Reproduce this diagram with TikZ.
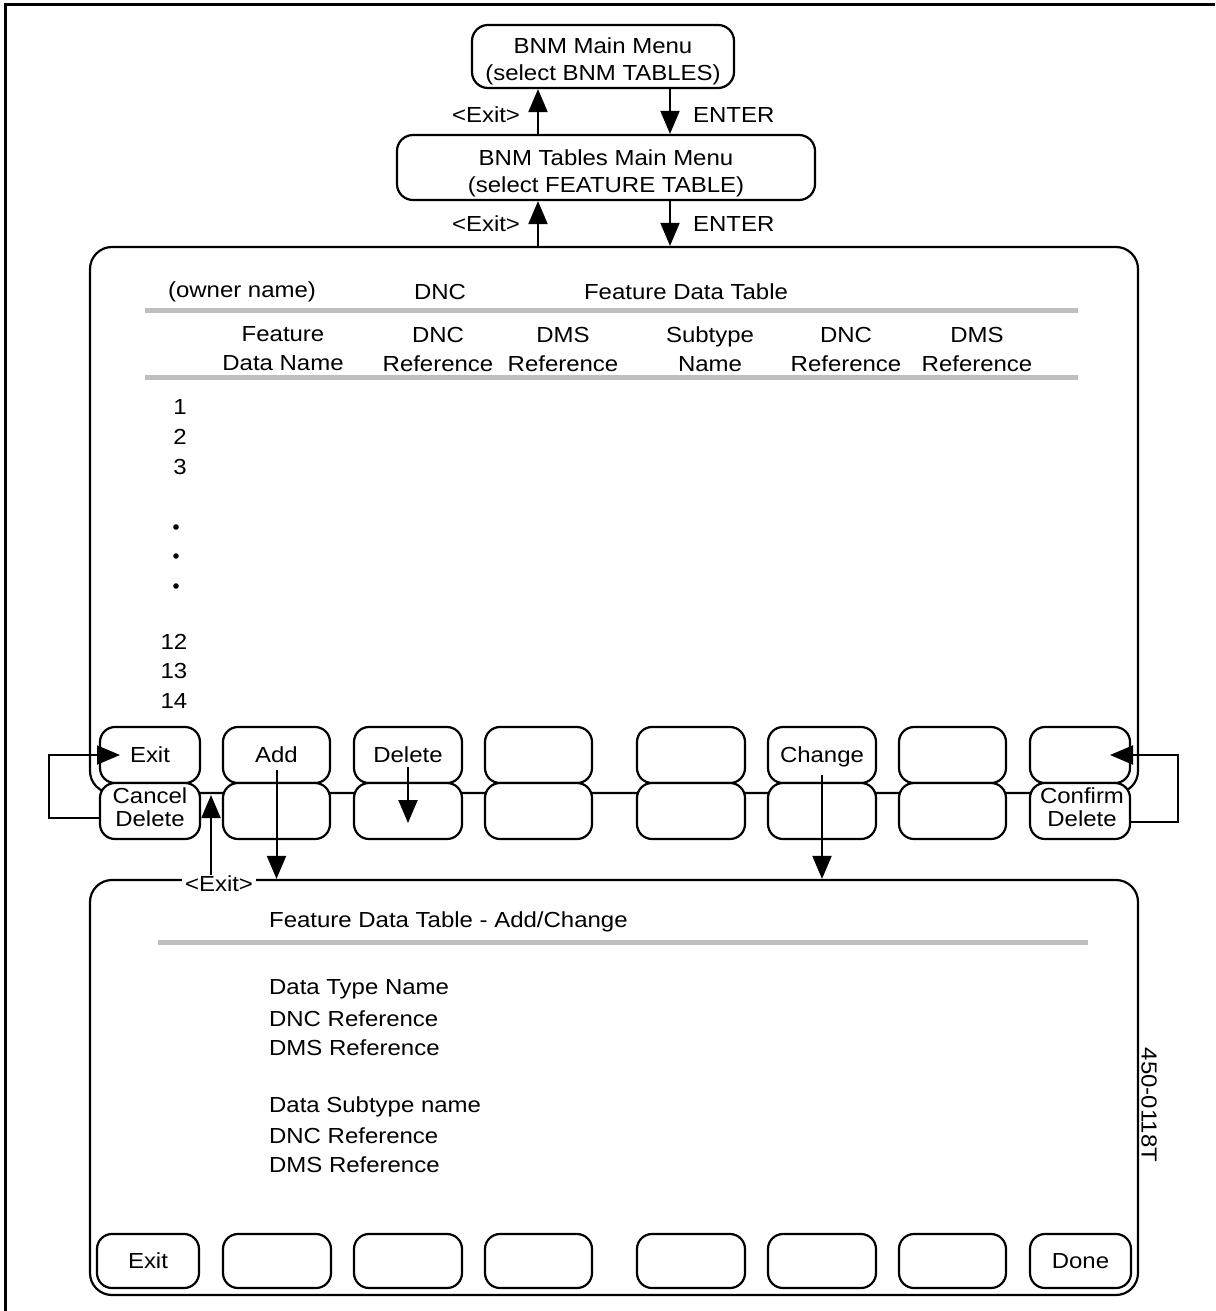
\documentclass[tikz,border=0pt]{standalone}
\usepackage{fontspec}
\setmainfont[FakeStretch=1.1]{Liberation Sans}
\usetikzlibrary{arrows.meta}
\newcommand{\tf}{\fontsize{21.8}{26}\selectfont}
\newcommand{\tfh}{\fontsize{21.8}{29}\selectfont}
\newcommand{\tfm}{\fontsize{21.8}{27}\selectfont}
\newcommand{\tfs}{\fontsize{21.8}{23}\selectfont}
\begin{document}
\begin{tikzpicture}[x=1pt,y=-1pt,line width=2.2pt,
  btn/.style={draw,fill=white,rounded corners=15pt,minimum height=56pt,minimum width=#1,inner sep=0pt,font=\tfs,align=center},
  bbtn/.style={draw,fill=white,rounded corners=15pt,minimum height=54pt,minimum width=#1,inner sep=0pt,font=\tf,align=center},
  panel/.style={draw,rounded corners=22pt,inner sep=0pt},
  menu/.style={draw,fill=white,rounded corners=16pt,inner sep=0pt},
  txt/.style={inner sep=0pt,font=\tf,align=center},
  mtxt/.style={inner sep=0pt,font=\tfm,align=center},
  htxt/.style={inner sep=0pt,font=\tfh,align=center},
  stxt/.style={inner sep=0pt,font=\tfs,align=center},
  ltxt/.style={inner sep=0pt,font=\tf,anchor=west},
  gline/.style={line width=5pt,draw=black!25},
  arr/.style={line width=2pt,-{Triangle[length=23pt,width=19pt]}}]
\useasboundingbox (0,0) rectangle (1215,1311);
% outer frame (left and top only)
\draw[line width=3pt] (5,1311) -- (5,5) -- (1215,5);

% menus
\node[menu,minimum width=262pt,minimum height=63pt] (m1) at (603,56.5) {};
\node[mtxt] (m1t) at (603,61) {BNM Main Menu\\(select BNM TABLES)};
\node[menu,minimum width=418pt,minimum height=65pt] (m2) at (606,167.5) {};
\node[mtxt] (m2t) at (606,173) {BNM Tables Main Menu\\(select FEATURE TABLE)};

% panels
\node[panel,minimum width=1048pt,minimum height=546pt] (p1) at (614,520) {};
\node[panel,minimum width=1048pt,minimum height=415pt] (p2) at (614,1087.5) {};

\coordinate (cxa) at (538,0);
\coordinate (cxb) at (670,0);

% menu arrows
\draw[arr] (m2.north -| cxa) -- (m1.south -| cxa);
\draw[arr] (m1.south -| cxb) -- (m2.north -| cxb);
\draw[arr] (p1.north -| cxa) -- (m2.south -| cxa);
\draw[arr] (m2.south -| cxb) -- (p1.north -| cxb);
\node[txt] (ex1) at (486,115) {<Exit>};
\node[ltxt] (en1) at (692,115) {ENTER};
\node[txt] (ex2) at (486,224) {<Exit>};
\node[ltxt] (en2) at (692,224) {ENTER};

% top panel content
\node[txt] (own) at (242,292) {(owner name)};
\node[txt] (dnc) at (440,292) {DNC};
\node[txt] (fdt) at (686,292) {Feature Data Table};
\draw[gline] (145,310) -- (1078,310);
\node[htxt] (h1) at (283,349) {Feature\\Data Name};
\node[htxt] (h2) at (438,349) {DNC\\Reference};
\node[htxt] (h3) at (563,349) {DMS\\Reference};
\node[htxt] (h4) at (710,349) {Subtype\\Name};
\node[htxt] (h5) at (846,349) {DNC\\Reference};
\node[htxt] (h6) at (977,349) {DMS\\Reference};
\draw[gline] (145,377) -- (1078,377);
\node[txt] (r1) at (180,407) {1};
\node[txt] (r2) at (180,437) {2};
\node[txt] (r3) at (180,467) {3};
\fill (176,527) circle (2.8pt);
\fill (176,556) circle (2.8pt);
\fill (176,586) circle (2.8pt);
\node[txt] (r12) at (174,642) {12};
\node[txt] (r13) at (174,671) {13};
\node[txt] (r14) at (174,701) {14};

% upper button row
\node[btn=100pt] (u1) at (150,755) {Exit};
\node[btn=107pt] (u2) at (276.5,755) {Add};
\node[btn=108pt] (u3) at (408,755) {Delete};
\node[btn=107pt] (u4) at (538.5,755) {};
\node[btn=108pt] (u5) at (691,755) {};
\node[btn=108pt] (u6) at (822,755) {};
\node[txt] (u6t) at (822,757) {Change};
\node[btn=107pt] (u7) at (952.5,755) {};
\node[btn=100pt] (u8) at (1080,755) {};
% lower button row
\node[btn=100pt] (l1) at (150,811) {};
\node[stxt] (l1t) at (150,807) {Cancel\\Delete};
\node[btn=107pt] (l2) at (276.5,811) {};
\node[btn=108pt] (l3) at (408,811) {};
\node[btn=107pt] (l4) at (538.5,811) {};
\node[btn=108pt] (l5) at (691,811) {};
\node[btn=108pt] (l6) at (822,811) {};
\node[btn=107pt] (l7) at (952.5,811) {};
\node[btn=100pt] (l8) at (1080,811) {};
\node[stxt] (l8t) at (1082,807) {Confirm\\Delete};

% bottom panel content
\node[txt,fill=white,inner xsep=3pt] (bex) at (219,884) {<Exit>};
\node[ltxt] (bt) at (268,922) {Feature Data Table - Add/Change};
\draw[gline] (158,942) -- (1088,942);
\node[ltxt] (f1) at (268,989) {Data Type Name};
\node[ltxt] (f2) at (268,1019) {DNC Reference};
\node[ltxt] (f3) at (268,1048) {DMS Reference};
\node[ltxt] (f4) at (268,1107) {Data Subtype name};
\node[ltxt] (f5) at (268,1136) {DNC Reference};
\node[ltxt] (f6) at (268,1165) {DMS Reference};
\node[txt,rotate=-90] (code) at (1149,1105) {450-0118T};

% bottom buttons
\node[bbtn=102pt] (b1) at (148,1261) {Exit};
\node[bbtn=108pt] (b2) at (277,1261) {};
\node[bbtn=108pt] (b3) at (408,1261) {};
\node[bbtn=107pt] (b4) at (538.5,1261) {};
\node[bbtn=108pt] (b5) at (691,1261) {};
\node[bbtn=108pt] (b6) at (822,1261) {};
\node[bbtn=107pt] (b7) at (952.5,1261) {};
\node[bbtn=101pt] (b8) at (1080.5,1261) {Done};

% connectors
\coordinate (cxc) at (211,795);
\draw[arr] (bex.north -| cxc) -- (cxc);
\draw[arr] ([yshift=-15pt]u2.center) -- (p2.north -| u2);
\draw[arr] ([yshift=-12pt]u3.center) -- ([yshift=-12pt]l3.center);
\draw[arr] ([yshift=-20pt]u6.center) -- (p2.north -| u6);
\draw[arr] ([yshift=-7pt]l1.west) -- ++(-50,0) |- ([xshift=-30pt]u1.center);
\draw[arr] ([yshift=-11pt]l8.east) -- ++(47,0) |- ([xshift=30pt]u8.center);
\end{tikzpicture}
\end{document}
